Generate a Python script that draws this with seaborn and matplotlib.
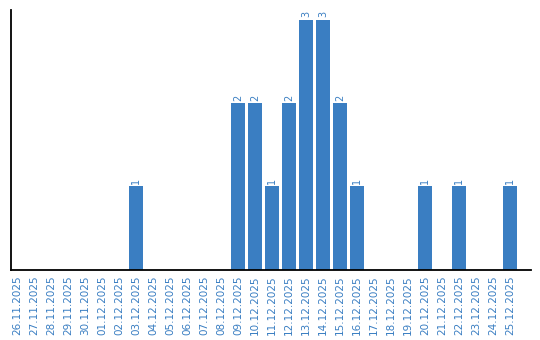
import matplotlib
matplotlib.use("Agg")
import matplotlib.pyplot as plt
import seaborn as sns
import pandas as pd

dates = ["26.11.2025", "27.11.2025", "28.11.2025", "29.11.2025", "30.11.2025",
         "01.12.2025", "02.12.2025", "03.12.2025", "04.12.2025", "05.12.2025",
         "06.12.2025", "07.12.2025", "08.12.2025", "09.12.2025", "10.12.2025",
         "11.12.2025", "12.12.2025", "13.12.2025", "14.12.2025", "15.12.2025",
         "16.12.2025", "17.12.2025", "18.12.2025", "19.12.2025", "20.12.2025",
         "21.12.2025", "22.12.2025", "23.12.2025", "24.12.2025", "25.12.2025"]
counts = [0, 0, 0, 0, 0, 0, 0, 1, 0, 0, 0, 0, 0, 2, 2, 1, 2, 3, 3, 2, 1,
          0, 0, 0, 1, 0, 1, 0, 0, 1]

df = pd.DataFrame({"date": dates, "count": counts})
blue = "#3a7ec2"

sns.set_theme(style="white")
fig = plt.figure(figsize=(5.4, 3.4), dpi=100)
ax = fig.add_axes([11/540, 1 - 269.5/340, 520/540, 259.5/340])
sns.barplot(data=df, x="date", y="count", color=blue, width=0.84,
            saturation=1, linewidth=0, ax=ax)
for p, v in zip(ax.patches, counts):
    if v > 0:
        ax.text(p.get_x() + p.get_width()/2, v + 0.03, str(v), rotation=90,
                ha="center", va="bottom", fontsize=7, color=blue)
ax.set_xlim(-0.36, 30.23)
ax.set_ylim(0, 3.12)
ax.set_xlabel("")
ax.set_ylabel("")
ax.set_yticks([])
ax.tick_params(axis="x", length=0, pad=4, labelsize=7.5, labelcolor=blue,
               labelrotation=90)
for s in ["top", "right"]:
    ax.spines[s].set_visible(False)
for s in ["left", "bottom"]:
    ax.spines[s].set_color("black")
    ax.spines[s].set_linewidth(1.3)
fig.savefig("out.png", dpi=100)
